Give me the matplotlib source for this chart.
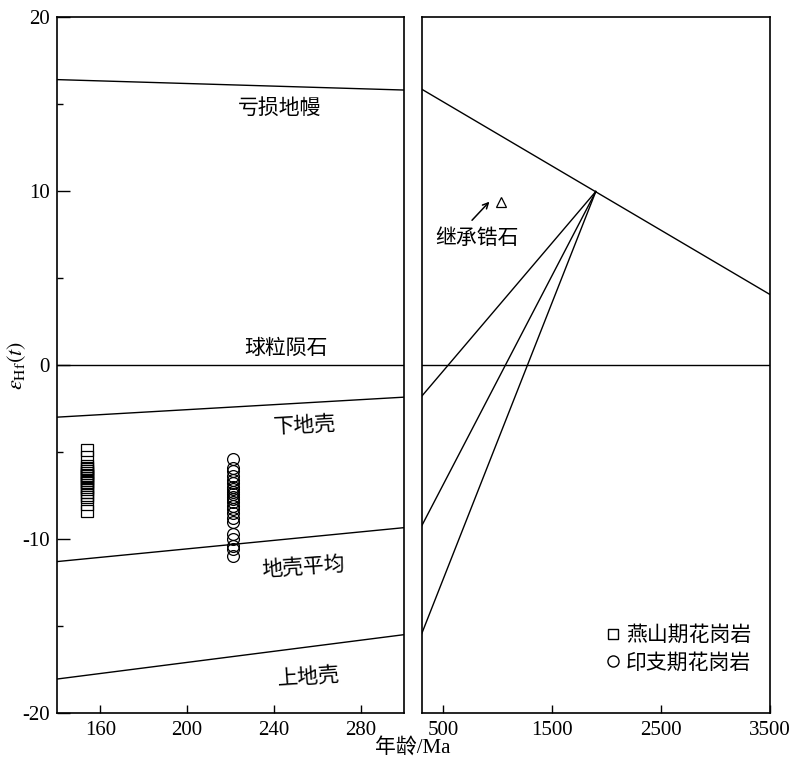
import numpy as np
import matplotlib
matplotlib.use('Agg')
import matplotlib.pyplot as plt
from matplotlib.ticker import MultipleLocator
from matplotlib.lines import Line2D

plt.rcParams['font.family'] = ['Liberation Serif', 'Noto Sans CJK SC']
plt.rcParams['mathtext.fontset'] = 'stix'
plt.rcParams['axes.unicode_minus'] = False

#%% Data
# zircon Hf data (age in Ma, eHf(t))
yanshan_age = 154
yanshan_ehf = [-4.9, -5.3, -5.8, -5.9, -6.0, -6.1, -6.2, -6.3, -6.4, -6.5,
               -6.6, -6.7, -6.8, -7.0, -7.1, -7.3, -7.5, -7.6, -8.0, -8.4]
indosinian_age = 221
indosinian_ehf = [-5.4, -5.9, -6.1, -6.4, -6.6, -6.8, -7.0, -7.1, -7.3, -7.4,
                  -7.6, -7.7, -7.9, -8.1, -8.3, -8.5, -8.8, -9.0, -9.7, -10.0,
                  -10.4, -10.6, -11.0]
inherited_age = 1030
inherited_ehf = 9.35

# reference evolution lines, left panel (140-300 Ma)
ref_age = [140, 300]
dm_line = [16.4, 15.8]
chur_line = [0, 0]
lower_crust = [-3.0, -1.85]
avg_crust = [-11.3, -9.35]
upper_crust = [-18.05, -15.5]

# right panel (300-3500 Ma)
dm_age = [300, 3500]
dm_right = [15.85, 4.05]
src_age = 1900
src_ehf = 9.97
crust_end = [-1.8, -9.25, -15.45]   # at 300 Ma

#%% Figure
fig = plt.figure(figsize=(7.91, 7.64), dpi=100)
ax1 = fig.add_axes([0.0721, 0.0668, 0.4387, 0.911])
ax2 = fig.add_axes([0.5331, 0.0668, 0.4403, 0.911])

lw = 1.0
for ax in (ax1, ax2):
    for sp in ax.spines.values():
        sp.set_linewidth(1.2)
    ax.set_ylim(-20, 20)

# left panel
for yy in (dm_line, chur_line, lower_crust, avg_crust, upper_crust):
    ax1.plot(ref_age, yy, color='black', lw=lw)

ax1.plot([yanshan_age] * len(yanshan_ehf), yanshan_ehf, 's', ms=8.5,
         mfc='none', mec='black', mew=0.9, ls='none')
ax1.plot([indosinian_age] * len(indosinian_ehf), indosinian_ehf, 'o', ms=8.5,
         mfc='none', mec='black', mew=0.9, ls='none')

cjk = ['Noto Sans CJK SC']
fs = 15
ax1.text(242.5, 14.8, '亏损地幔', family=cjk, fontsize=fs, ha='center', va='center')
ax1.text(245.5, 1.0, '球粒陨石', family=cjk, fontsize=fs, ha='center', va='center')
ax1.text(254, -3.45, '下地壳', family=cjk, fontsize=fs, ha='center', va='center', rotation=3)
ax1.text(253.5, -11.6, '地壳平均', family=cjk, fontsize=fs, ha='center', va='center', rotation=4)
ax1.text(256, -17.9, '上地壳', family=cjk, fontsize=fs, ha='center', va='center', rotation=4)

ax1.set_xlim(140, 300)
ax1.set_xticks([160, 200, 240, 280])
ax1.set_yticks([-20, -10, 0, 10, 20])
ax1.yaxis.set_minor_locator(MultipleLocator(5))
ax1.tick_params(axis='y', which='major', direction='in', length=9, width=1, labelsize=15, pad=5)
ax1.tick_params(axis='y', which='minor', direction='in', length=4, width=1)
ax1.tick_params(axis='x', direction='in', length=6, width=1, labelsize=15, pad=6)
ax1.set_ylabel(r'$\varepsilon_{\rm Hf}(t)$', fontsize=16)
ax1.yaxis.set_label_coords(-0.083, 0.5)

# right panel
ax2.plot(dm_age, dm_right, color='black', lw=lw)
ax2.axhline(0, color='black', lw=lw)
for e in crust_end:
    ax2.plot([src_age, 300], [src_ehf, e], color='black', lw=lw)
ax2.plot(inherited_age, inherited_ehf, '^', ms=7, mfc='none', mec='black', mew=0.9)
ax2.annotate('', xy=(940, 9.5), xytext=(745, 8.2),
             arrowprops=dict(arrowstyle='->', color='black', lw=1.1))
ax2.text(812, 7.3, '继承锆石', family=cjk, fontsize=fs, ha='center', va='center')

ax2.set_xlim(300, 3500)
ax2.set_xticks([500, 1500, 2500, 3500])
ax2.set_yticks([])
ax2.tick_params(axis='x', direction='in', length=6, width=1, labelsize=15, pad=6)

handles = [Line2D([], [], marker='s', ms=7.5, mfc='none', mec='black', ls='none'),
           Line2D([], [], marker='o', ms=8, mfc='none', mec='black', ls='none')]
leg = ax2.legend(handles, ['燕山期花岗岩', '印支期花岗岩'], loc='lower right',
                 bbox_to_anchor=(1.0, 0.03), frameon=False, handletextpad=0.0,
                 handlelength=1.2, labelspacing=0.25, borderaxespad=0.5,
                 prop={'family': cjk, 'size': fs})

fig.text(0.522, 0.021, '年龄/Ma', ha='center', va='center', fontsize=15)

fig.savefig('out.png', dpi=100)
